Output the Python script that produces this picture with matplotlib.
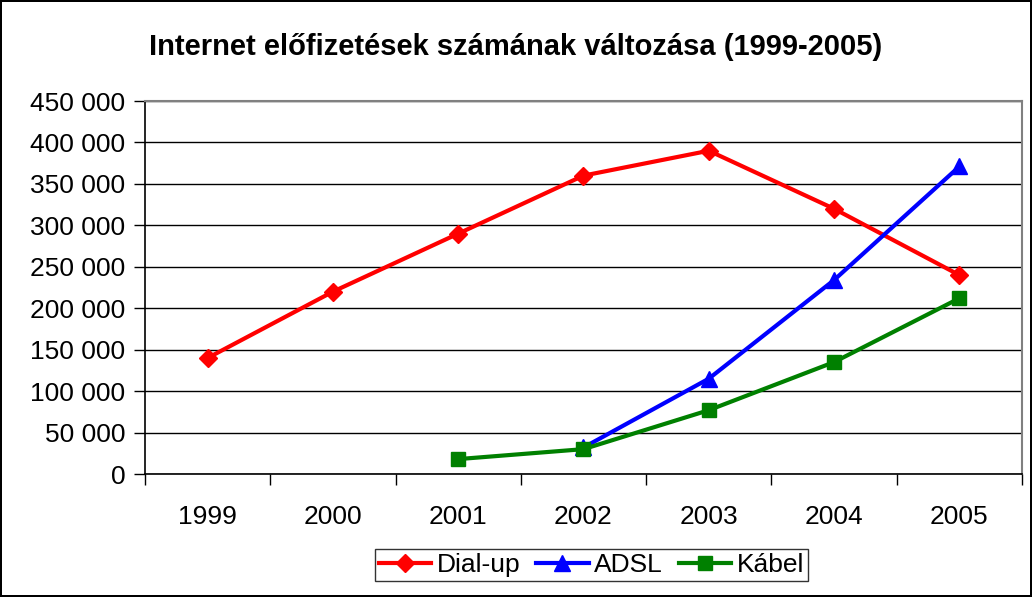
import matplotlib.pyplot as plt
import numpy as np

years = ['1999', '2000', '2001', '2002', '2003', '2004', '2005']
dialup = [140000, 220000, 290000, 360000, 390000, 320000, 240000]
adsl = [np.nan, np.nan, np.nan, 32000, 115000, 234000, 371000]
kabel = [np.nan, np.nan, 18000, 30000, 77000, 135000, 212000]
yticks = [0, 50000, 100000, 150000, 200000, 250000, 300000, 350000, 400000, 450000]

plt.rcParams['font.family'] = ['Liberation Sans', 'DejaVu Sans']

fig = plt.figure(figsize=(10.32, 5.97), dpi=100)
fig.patch.set_edgecolor('black')
fig.patch.set_linewidth(1.5)
ax = fig.add_axes([0.1405, 0.206, 0.8498, 0.6248])

x = np.arange(len(years))
ax.plot(x, dialup, color='#ff0000', lw=3, marker='D', ms=9, label='Dial-up')
ax.plot(x, adsl, color='#0000ff', lw=3, marker='^', ms=11, label='ADSL')
ax.plot(x, kabel, color='#008000', lw=3, marker='s', ms=10, label='Kábel')

ax.set_xlim(-0.5, 6.5)
ax.set_ylim(0, 450000)
ax.set_yticks(yticks)
ax.set_yticklabels([f'{v:,}'.replace(',', ' ') for v in yticks], fontsize=19)
ax.set_xticks(np.arange(-0.5, 7, 1))
ax.set_xticklabels([])
ax.set_xticks(x, minor=True)
ax.set_xticklabels(years, minor=True, fontsize=19)
ax.tick_params(axis='x', which='major', length=8, direction='out', width=1)
ax.tick_params(axis='x', which='minor', length=0, pad=22)
ax.tick_params(axis='y', length=8, direction='out', width=1, pad=6)
ax.yaxis.grid(True, color='black', lw=1)
ax.set_axisbelow(True)
for s in ['top', 'right']:
    ax.spines[s].set_color('#808080')
    ax.spines[s].set_linewidth(1.5)
for s in ['left', 'bottom']:
    ax.spines[s].set_linewidth(1.2)

fig.text(0.5, 0.921, 'Internet előfizetések számának változása (1999-2005)',
         ha='center', va='center', fontsize=21, fontweight='bold')

fig.legend(loc='center', bbox_to_anchor=(0.573, 0.053), ncol=3, fontsize=19,
           frameon=True, fancybox=False, edgecolor='black', handlelength=2.0,
           handletextpad=0.2, columnspacing=0.6, borderpad=0.15)

fig.savefig('out.png', dpi=100)
